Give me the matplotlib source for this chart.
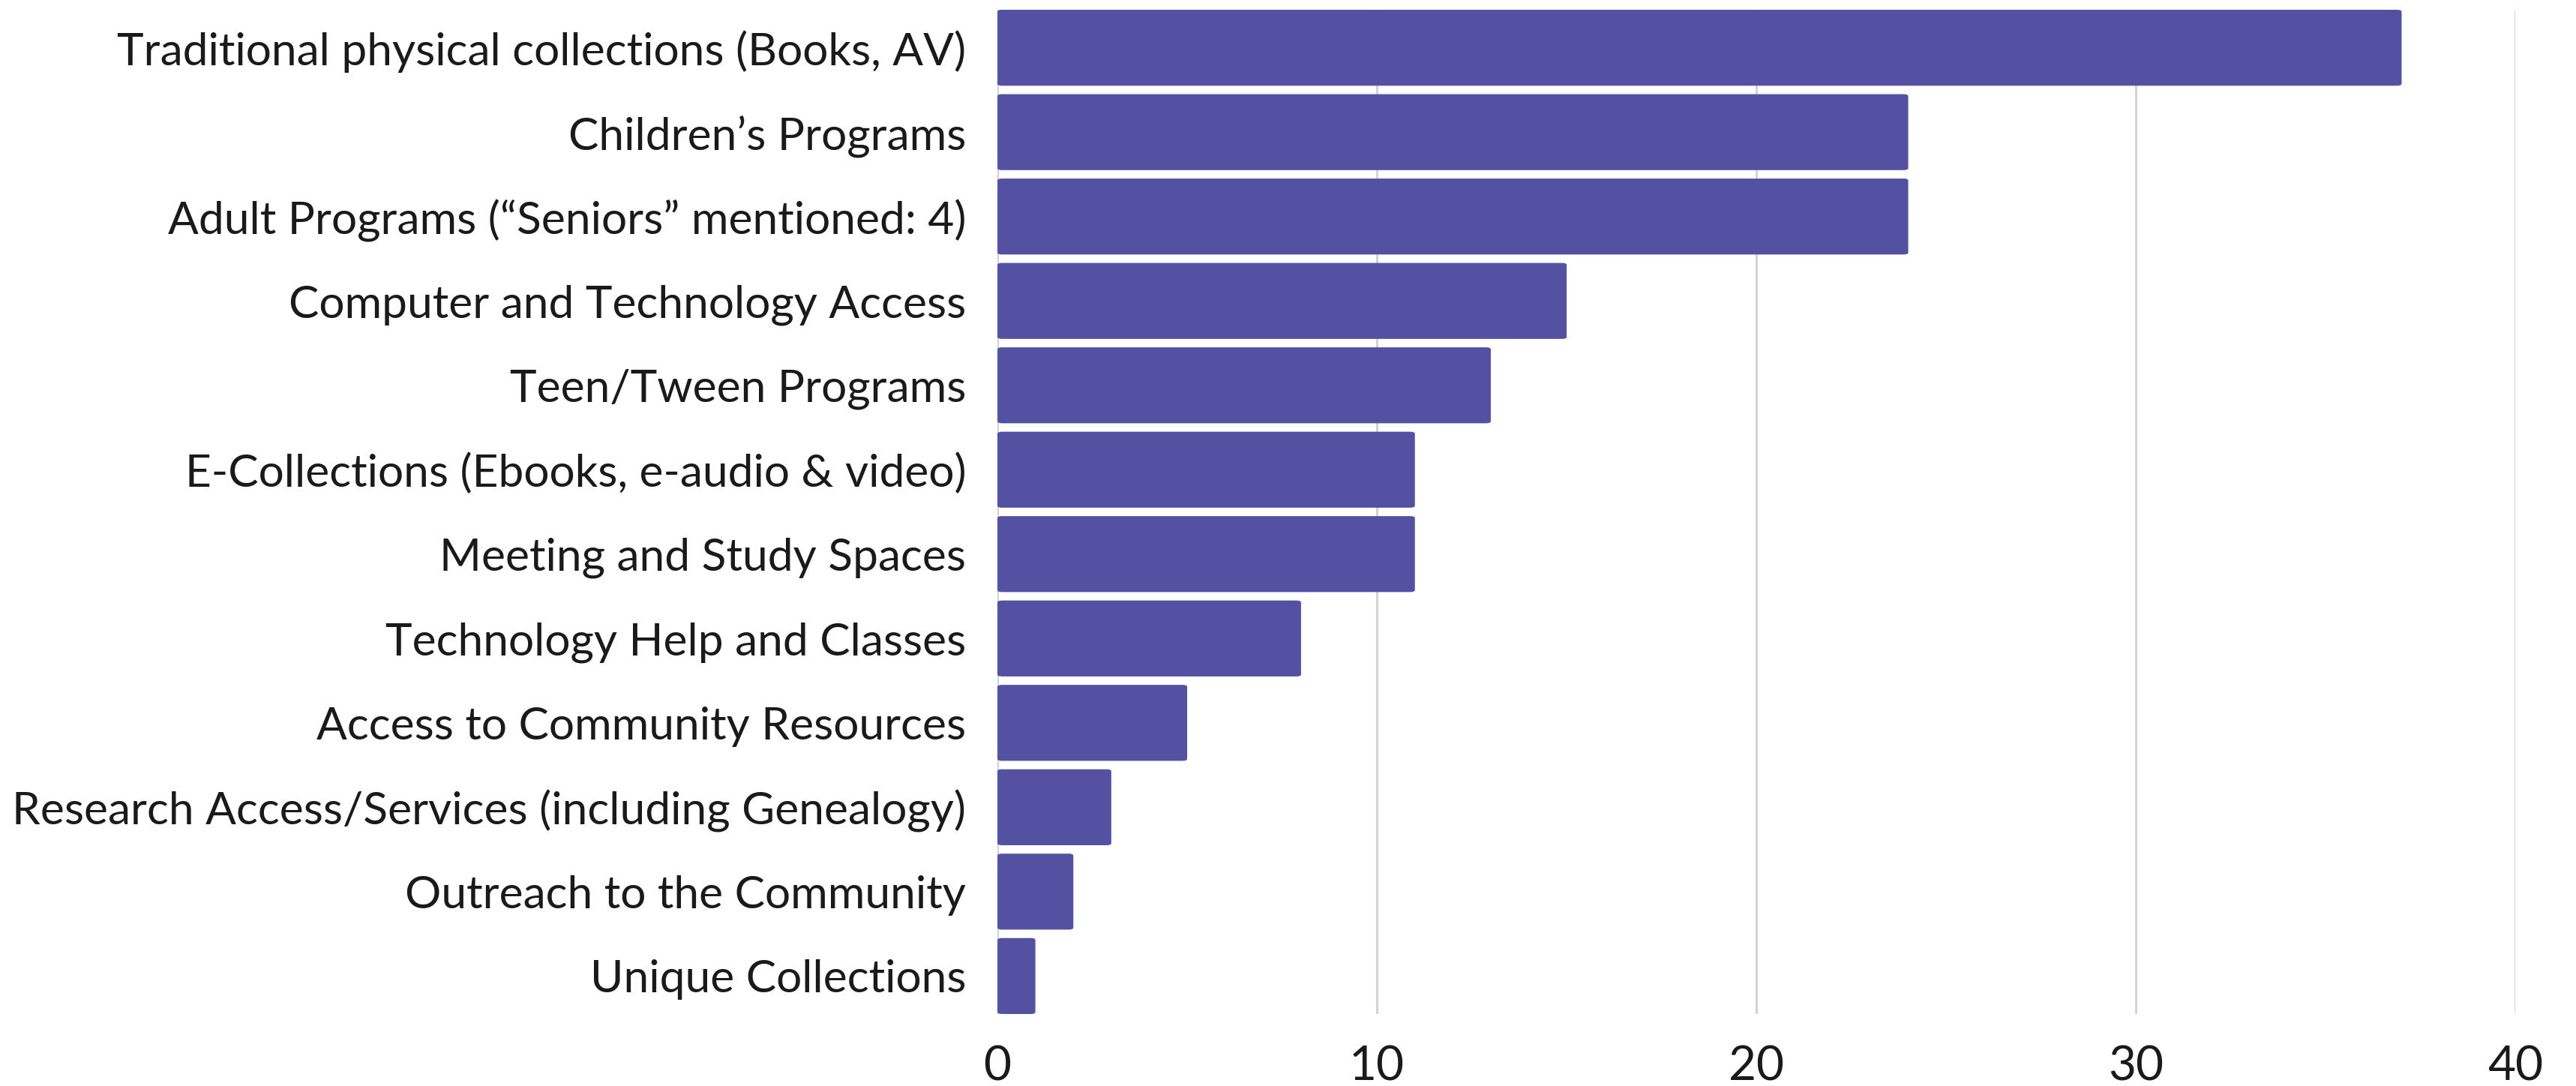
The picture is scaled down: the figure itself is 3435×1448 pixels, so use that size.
import matplotlib
matplotlib.use("Agg")
import matplotlib.pyplot as plt
from matplotlib.patches import FancyBboxPatch

plt.rcParams['font.family'] = ['Lato', 'DejaVu Sans']

# data
categories = [
    "Traditional physical collections (Books, AV)",
    "Children\u2019s Programs",
    "Adult Programs (\u201cSeniors\u201d mentioned: 4)",
    "Computer and Technology Access",
    "Teen/Tween Programs",
    "E-Collections (Ebooks, e-audio & video)",
    "Meeting and Study Spaces",
    "Technology Help and Classes",
    "Access to Community Resources",
    "Research Access/Services (including Genealogy)",
    "Outreach to the Community",
    "Unique Collections",
]
counts = [37, 24, 24, 15, 13, 11, 11, 8, 5, 3, 2, 1]
xticks = [0, 10, 20, 30, 40]

bar_color = '#5451a3'
grid_color = '#d0d0d0'

fig = plt.figure(figsize=(34.35, 14.48), dpi=100)
ax = fig.add_axes([0.3872, 0.0663, 0.5893, 0.9247])

ypos = list(range(len(categories)))
bars = ax.barh(ypos, counts, height=0.9, color=bar_color, zorder=3)

# swap each bar for one with slightly rounded corners
for b in bars:
    x0, y0 = b.get_x(), b.get_y()
    w, h = b.get_width(), b.get_height()
    b.set_visible(False)
    ax.add_patch(FancyBboxPatch((x0, y0), w, h,
                                boxstyle="round,pad=0,rounding_size=0.12",
                                mutation_aspect=0.9 / 4.6,
                                facecolor=bar_color, edgecolor='none', zorder=3))

ax.set_xlim(0, 40)
ax.set_ylim(len(categories) - 0.55, -0.45)
ax.set_xticks(xticks)
ax.set_yticks(ypos)
ax.set_yticklabels(categories)

ax.grid(axis='x', color=grid_color, linewidth=2, zorder=0)
ax.grid(axis='y', visible=False)
for s in ax.spines.values():
    s.set_visible(False)

ax.tick_params(axis='y', length=0, pad=30, labelsize=43.5, labelcolor='#1a1a1a')
ax.tick_params(axis='x', length=0, pad=30, labelsize=46, labelcolor='#1a1a1a')

fig.savefig('out.png', dpi=100, facecolor='white')
